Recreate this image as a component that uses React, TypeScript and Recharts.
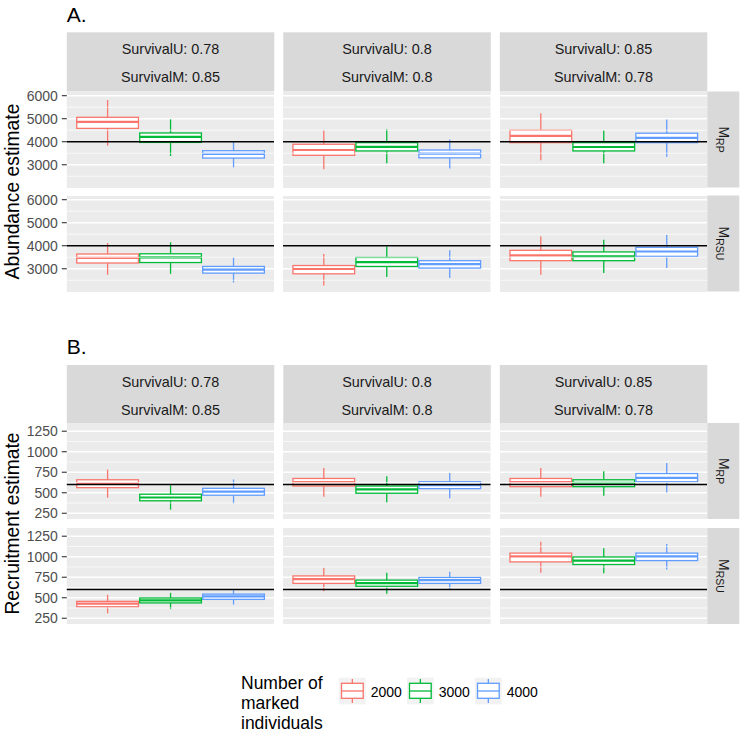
import React from 'react';
import { ComposedChart, Bar, XAxis, YAxis, CartesianGrid, ReferenceLine } from 'recharts';

// ---------- data ----------
const groups = ['2000', '3000', '4000'];
const stripU = ['SurvivalU: 0.78', 'SurvivalU: 0.8', 'SurvivalU: 0.85'];
const stripM = ['SurvivalM: 0.85', 'SurvivalM: 0.8', 'SurvivalM: 0.78'];
const rowLabels = ['RP', 'RSU'];

// [column][group] -> [lower whisker, Q1, median, Q3, upper whisker]
const abundanceRP = [
  [[3830, 4580, 4860, 5060, 5810], [3380, 3970, 4210, 4380, 4970], [2890, 3290, 3470, 3610, 4000]],
  [[2800, 3410, 3640, 3890, 4500], [3060, 3600, 3780, 3960, 4540], [2840, 3300, 3480, 3640, 4100]],
  [[3190, 3960, 4250, 4500, 5240], [3060, 3600, 3770, 3960, 4500], [3350, 3960, 4170, 4370, 4970]],
];
const abundanceRSU = [
  [[2740, 3250, 3470, 3640, 4120], [2780, 3270, 3490, 3650, 4150], [2400, 2810, 2960, 3100, 3490]],
  [[2270, 2780, 2990, 3140, 3640], [2640, 3100, 3290, 3490, 3970], [2600, 3030, 3200, 3350, 3800]],
  [[2740, 3350, 3580, 3800, 4400], [2810, 3350, 3540, 3730, 4260], [3030, 3540, 3750, 3930, 4480]],
];
const recruitRP = [
  [[440, 562, 615, 658, 782], [294, 402, 442, 482, 590], [370, 470, 514, 554, 662]],
  [[450, 582, 630, 674, 802], [382, 494, 542, 582, 702], [434, 550, 594, 634, 742]],
  [[450, 574, 630, 674, 802], [462, 574, 622, 658, 762], [502, 634, 682, 734, 862]],
];
const recruitRSU = [
  [[310, 390, 429, 456, 536], [361, 437, 468, 497, 560], [417, 480, 516, 544, 599]],
  [[580, 675, 726, 766, 866], [548, 640, 679, 715, 806], [607, 675, 715, 747, 818]],
  [[806, 937, 1004, 1044, 1182], [798, 905, 953, 997, 1104], [845, 953, 1004, 1044, 1155]],
];

const abundTicks = [3000, 4000, 5000, 6000];
const abundMinor = [2500, 3500, 4500, 5500];
const abundDomain = [1990, 6160];
const abundTrue = 4000;

const recruitTicks = [250, 500, 750, 1000, 1250];
const recruitMinor = [375, 625, 875, 1125];
const recruitDomain = [180, 1350];
const recruitTrue = 600;

// ---------- style ----------
const colors = ['#F8766D', '#00BA38', '#619CFF'];
const FONT = '"Liberation Sans", Arial, Helvetica, sans-serif';
const colLefts = [66.8, 283.3, 499.8];
const PW = 207.5;
const PH = 96;
const PAD = 12;
const stripRightX = 707.3;

const BoxShape = (props: any) => {
  const { x, y, width, height, payload, index } = props;
  if (!payload) return null;
  const [lo, q1, med, q3, hi] = payload.s;
  const top = Math.min(y, y + height);
  const h = Math.abs(height);
  const py = (v: number) => top + ((hi - v) / (hi - lo)) * h;
  const c = colors[index];
  const cx = x + width / 2;
  const sw = 1.3;
  return (
    <g>
      <line x1={cx} x2={cx} y1={py(hi)} y2={py(lo)} stroke={c} strokeWidth={sw} />
      <rect x={x + sw / 2} y={py(q3)} width={width - sw} height={py(q1) - py(q3)} fill="#FFFFFF" stroke={c} strokeWidth={sw} />
      <line x1={x + sw / 2} x2={x + width - sw / 2} y1={py(med)} y2={py(med)} stroke={c} strokeWidth={2.2} />
    </g>
  );
};

function Panel({ stats, col, top, ticks, minor, domain, truth }: any) {
  const showAxis = col === 0;
  const left = showAxis ? 0 : colLefts[col];
  const width = showAxis ? colLefts[0] + PW : PW;
  const data = groups.map((g, i) => ({ group: g, range: [stats[col][i][0], stats[col][i][4]], s: stats[col][i] }));
  return (
    <div style={{ position: 'absolute', left, top: top - PAD, width, height: PH + 2 * PAD }}>
      <ComposedChart width={width} height={PH + 2 * PAD} data={data} margin={{ top: PAD, right: 0, bottom: PAD, left: 0 }} barCategoryGap={0} barGap={0}>
        <CartesianGrid fill="#EBEBEB" vertical={false} horizontalValues={ticks} stroke="#FFFFFF" strokeWidth={1.4} />
        <XAxis dataKey="group" hide padding={{ left: 9.3, right: 9.3 }} />
        <YAxis
          type="number"
          domain={domain}
          allowDataOverflow
          ticks={ticks}
          interval={0}
          hide={!showAxis}
          width={showAxis ? colLefts[0] : 0}
          axisLine={false}
          tickLine={{ stroke: '#333333', strokeWidth: 1.1 }}
          tickSize={5}
          tickMargin={4}
          tick={{ fontSize: 14, fill: '#4D4D4D', fontFamily: FONT }}
        />
        {minor.map((v: number) => (
          <ReferenceLine key={v} y={v} stroke="#FFFFFF" strokeWidth={0.7} />
        ))}
        <Bar dataKey="range" shape={BoxShape} isAnimationActive={false} />
        <ReferenceLine y={truth} stroke="#000000" strokeWidth={1.5} />
      </ComposedChart>
    </div>
  );
}

const sections = [
  { title: 'A.', titleY: 21.7, stripTop: 32.3, stripH: 59.2, rowTops: [91.5, 195.5], stats: [abundanceRP, abundanceRSU], ticks: abundTicks, minor: abundMinor, domain: abundDomain, truth: abundTrue, yTitle: 'Abundance estimate', yTitleX: 19, yTitleY: 191.5 },
  { title: 'B.', titleY: 354.3, stripTop: 365, stripH: 58, rowTops: [423, 528], stats: [recruitRP, recruitRSU], ticks: recruitTicks, minor: recruitMinor, domain: recruitDomain, truth: recruitTrue, yTitle: 'Recruitment estimate', yTitleX: 18.5, yTitleY: 523.5 },
];

const legendKeyX = [339, 407, 475];

export default function App() {
  return (
    <div style={{ position: 'absolute', left: 0, top: 0, width: 741, height: 733, background: '#FFFFFF', fontFamily: FONT, overflow: 'hidden' }}>
      {sections.map((sec, si) =>
        sec.rowTops.map((rt, ri) =>
          [0, 1, 2].map((c) => (
            <Panel key={`${si}-${ri}-${c}`} stats={sec.stats[ri]} col={c} top={rt} ticks={sec.ticks} minor={sec.minor} domain={sec.domain} truth={sec.truth} />
          ))
        )
      )}
      <svg width={741} height={733} style={{ position: 'absolute', left: 0, top: 0, pointerEvents: 'none' }} fontFamily={FONT}>
        {sections.map((sec, si) => (
          <g key={si}>
            <text x={66.7} y={sec.titleY} fontSize={21} fill="#000">{sec.title}</text>
            {[0, 1, 2].map((c) => (
              <g key={c}>
                <rect x={colLefts[c]} y={sec.stripTop} width={PW} height={sec.stripH} fill="#D9D9D9" />
                <text x={colLefts[c] + PW / 2} y={sec.stripTop + 21.5} fontSize={14.4} fill="#1A1A1A" textAnchor="middle">{stripU[c]}</text>
                <text x={colLefts[c] + PW / 2} y={sec.stripTop + 50} fontSize={14.4} fill="#1A1A1A" textAnchor="middle">{stripM[c]}</text>
              </g>
            ))}
            {sec.rowTops.map((rt, ri) => (
              <g key={ri}>
                <rect x={stripRightX} y={rt} width={32} height={PH} fill="#D9D9D9" />
                <text transform={`translate(719,${rt + PH / 2}) rotate(90)`} textAnchor="middle" fontSize={14} fill="#1A1A1A">
                  M<tspan fontSize={10.5} dy={3}>{rowLabels[ri]}</tspan>
                </text>
              </g>
            ))}
            <text transform={`translate(${sec.yTitleX},${sec.yTitleY}) rotate(-90)`} textAnchor="middle" fontSize={19.3} fill="#000">{sec.yTitle}</text>
          </g>
        ))}
        {/* legend */}
        <text x={241} y={689.3} fontSize={17.5} fill="#000">Number of</text>
        <text x={241} y={709.3} fontSize={17.5} fill="#000">marked</text>
        <text x={241} y={729.3} fontSize={17.5} fill="#000">individuals</text>
        {groups.map((g, i) => {
          const kx = legendKeyX[i];
          return (
            <g key={g}>
              <rect x={kx} y={677.7} width={26.7} height={26.7} fill="#F2F2F2" />
              <line x1={kx + 13.35} x2={kx + 13.35} y1={679} y2={703} stroke={colors[i]} strokeWidth={1.3} />
              <rect x={kx + 2.5} y={683.3} width={21.7} height={15} fill="#FFFFFF" stroke={colors[i]} strokeWidth={1.3} />
              <line x1={kx + 2.5} x2={kx + 24.2} y1={691} y2={691} stroke={colors[i]} strokeWidth={1.3} />
              <text x={kx + 31.7} y={696.7} fontSize={14} fill="#000">{g}</text>
            </g>
          );
        })}
      </svg>
    </div>
  );
}
